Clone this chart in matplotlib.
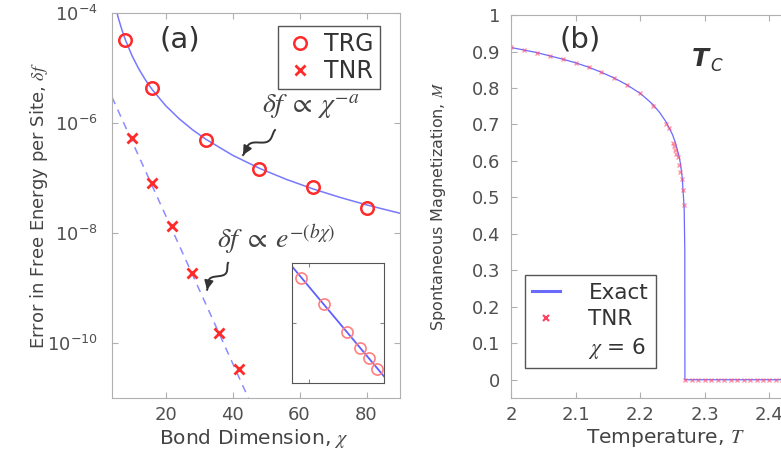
import numpy as np
import matplotlib
matplotlib.use("Agg")
import matplotlib.pyplot as plt
from matplotlib.lines import Line2D

# ---- datos del panel (a) ----
chi_trg = [8, 16, 32, 48, 64, 80]
err_trg = [3.2e-5, 4.4e-6, 4.9e-7, 1.45e-7, 6.8e-8, 2.9e-8]

chi_tnr = [10, 16, 22, 28, 36, 42]
err_tnr = [5.3e-7, 8.0e-8, 1.35e-8, 1.9e-9, 1.5e-10, 3.4e-11]

# curva de ajuste (ley de potencias)
chi_ajuste_trg = [5.5, 6, 7, 8, 10, 12, 14, 16, 20, 24, 28, 32, 40, 48, 56, 64, 72, 80, 90, 100]
err_ajuste_trg = [1.0e-4, 7.68e-5, 4.84e-5, 3.24e-5, 1.66e-5, 9.6e-6, 6.05e-6, 4.05e-6,
                  2.07e-6, 1.2e-6, 7.56e-7, 5.07e-7, 2.59e-7, 1.5e-7, 9.45e-8, 6.33e-8,
                  4.45e-8, 3.24e-8, 2.28e-8, 1.66e-8]

# recta exponencial (extremos)
chi_ajuste_tnr = [4, 50]
err_ajuste_tnr = [2.95e-6, 1.95e-12]

# ---- datos del panel (b) ----
T_exacta = [2.0, 2.02, 2.04, 2.06, 2.08, 2.1, 2.12, 2.14, 2.16, 2.18, 2.2, 2.21, 2.22,
            2.23, 2.24, 2.25, 2.255, 2.26, 2.262, 2.265, 2.268, 2.269, 2.2692, 2.5]
M_exacta = [0.911, 0.904, 0.897, 0.888, 0.879, 0.869, 0.857, 0.843, 0.827, 0.808, 0.785,
            0.770, 0.754, 0.733, 0.707, 0.672, 0.647, 0.613, 0.595, 0.555, 0.472, 0.356,
            0.0, 0.0]

T_tnr = [2.0, 2.02, 2.04, 2.06, 2.08, 2.1, 2.12, 2.14, 2.16, 2.18, 2.2, 2.22, 2.24,
         2.245, 2.25, 2.252, 2.254, 2.256, 2.258, 2.26, 2.262, 2.264, 2.266, 2.267,
         2.27, 2.28, 2.29, 2.3, 2.31, 2.32, 2.33, 2.34, 2.35, 2.36, 2.37, 2.38, 2.39,
         2.4, 2.41, 2.42, 2.43, 2.44, 2.45, 2.46, 2.47, 2.48, 2.49, 2.5]
M_tnr = [0.911, 0.904, 0.897, 0.888, 0.879, 0.869, 0.857, 0.843, 0.827, 0.808, 0.785,
         0.750, 0.700, 0.690, 0.650, 0.640, 0.630, 0.620, 0.610, 0.590, 0.570, 0.550,
         0.520, 0.480,
         0.0, 0.0, 0.0, 0.0, 0.0, 0.0, 0.0, 0.0, 0.0, 0.0, 0.0, 0.0, 0.0,
         0.0, 0.0, 0.0, 0.0, 0.0, 0.0, 0.0, 0.0, 0.0, 0.0, 0.0]

# ---- estilo ----
plt.rcParams['font.family'] = ['DejaVu Sans']
plt.rcParams['mathtext.fontset'] = 'stix'
gris_texto = '#444444'
gris_marco = '#b0b0b0'
azul = '#7878ff'
rojo = '#ff2a2a'


def estilo_ejes(ax, pad_y=4):
    for s in ax.spines.values():
        s.set_color(gris_marco)
    ax.tick_params(direction='in', top=True, right=True, length=4,
                   color=gris_marco, labelcolor='#505050', labelsize=13)
    ax.tick_params(axis='x', pad=6)
    ax.tick_params(axis='y', pad=pad_y)


def flecha_ondulada(ax, inicio, fin, ancho_px, alto_px):
    # linea ondulada en pixeles del eje, con punta de flecha al final
    x0, y0 = inicio[0] * ancho_px, inicio[1] * alto_px
    x1, y1 = fin[0] * ancho_px, fin[1] * alto_px
    t = np.linspace(0, 1, 80)
    dx, dy = x1 - x0, y1 - y0
    largo = np.hypot(dx, dy)
    nx, ny = -dy / largo, dx / largo
    onda = 5.5 * np.sin(2 * np.pi * 1.0 * t) * np.sin(np.pi * t) ** 0.5
    xs = x0 + dx * t + nx * onda
    ys = y0 + dy * t + ny * onda
    ax.plot(xs / ancho_px, ys / alto_px, color='#333333', lw=1.4,
            transform=ax.transAxes, clip_on=False)
    ax.annotate('', xy=fin, xytext=(xs[-8] / ancho_px, ys[-8] / alto_px),
                xycoords='axes fraction', textcoords='axes fraction',
                arrowprops=dict(arrowstyle='-|>', color='#333333', lw=1.4,
                                mutation_scale=13, shrinkA=0, shrinkB=0))


fig = plt.figure(figsize=(7.81, 4.5), dpi=100)

# ================= panel (a) =================
ax1 = fig.add_axes([0.1434, 0.1156, 0.3688, 0.8556])
ax1.plot(chi_ajuste_trg, err_ajuste_trg, color=azul, lw=1.1)
ax1.plot(chi_ajuste_tnr, err_ajuste_tnr, color='#8c8cff', lw=1.1, ls=(0, (5, 4)))
ax1.plot(chi_trg, err_trg, 'o', mfc='none', mec=rojo, ms=9, mew=1.8, label='TRG')
ax1.plot(chi_tnr, err_tnr, 'x', color=rojo, ms=7, mew=2, label='TNR')
ax1.set_yscale('log')
ax1.set_xlim(4, 90)
ax1.set_ylim(1e-11, 1e-4)
ax1.set_xticks([20, 40, 60, 80])
ax1.set_yticks([1e-10, 1e-8, 1e-6, 1e-4])
ax1.minorticks_off()
estilo_ejes(ax1, pad_y=10)
ax1.set_xlabel(r'Bond Dimension, $\chi$', fontsize=14.5, color=gris_texto)
ax1.set_ylabel(r'Error in Free Energy per Site, $\delta f$', fontsize=13, color=gris_texto)
ax1.yaxis.set_label_coords(-0.215, 0.5)
ax1.xaxis.set_label_coords(0.493, -0.075)
ax1.text(0.236, 0.93, '(a)', transform=ax1.transAxes, fontsize=21,
         color='#333333', ha='center', va='center')
ax1.text(0.52, 0.755, r'$\delta f\;\propto\;\chi^{-a}$', transform=ax1.transAxes,
         fontsize=20, color='#444444', va='center')
ax1.text(0.365, 0.41, r'$\delta f\;\propto\;e^{-(b\chi)}$', transform=ax1.transAxes,
         fontsize=20, color='#444444', va='center')
flecha_ondulada(ax1, (0.566, 0.696), (0.455, 0.631), 288, 385)
flecha_ondulada(ax1, (0.403, 0.351), (0.330, 0.281), 288, 385)
leg1 = ax1.legend(loc='upper right', bbox_to_anchor=(0.93, 0.966), fontsize=17,
                  fancybox=False, edgecolor='#555555', framealpha=1, borderaxespad=0,
                  handletextpad=0.4, handlelength=1.3, borderpad=0.25, labelspacing=0.15)
for t in leg1.get_texts():
    t.set_color('#333333')

# recuadro (log-log del TRG)
ax_in = fig.add_axes([0.3739, 0.1489, 0.1178, 0.2667])
ax_in.plot([6, 100], [7.68e-5, 1.66e-8], color='#6060ff', lw=1.3)
ax_in.plot(chi_trg, err_trg, 'o', mfc='none', mec='#ff8080', ms=8, mew=1.2)
ax_in.set_xscale('log')
ax_in.set_yscale('log')
ax_in.set_xlim(6, 100)
ax_in.set_ylim(1e-8, 1e-4)
ax_in.set_xticks([10])
ax_in.set_yticks([1e-6])
ax_in.minorticks_off()
ax_in.tick_params(direction='in', top=True, right=True, length=3, color='#888888',
                  labelbottom=False, labelleft=False)
for s in ax_in.spines.values():
    s.set_color('#555555')

# ================= panel (b) =================
ax2 = fig.add_axes([0.6543, 0.1156, 0.4136, 0.851])
ax2.plot(T_exacta, M_exacta, color='#6a6aff', lw=0.9, label='Exact')
ax2.plot(T_tnr, M_tnr, 'x', color='#ff5070', alpha=0.6, ms=3.5, mew=1, label='TNR')
ax2.set_xlim(2, 2.5)
ax2.set_ylim(-0.05, 1)
# el eje continua fuera de la figura, como en el original recortado
ax2.set_xticks([2, 2.1, 2.2, 2.3, 2.4])
ax2.set_yticks([0, 0.1, 0.2, 0.3, 0.4, 0.5, 0.6, 0.7, 0.8, 0.9, 1])
ax2.set_xticklabels(['2', '2.1', '2.2', '2.3', '2.4'])
ax2.set_yticklabels(['0', '0.1', '0.2', '0.3', '0.4', '0.5', '0.6', '0.7', '0.8', '0.9', '1'])
estilo_ejes(ax2, pad_y=8)
ax2.set_xlabel(r'Temperature, $T$', fontsize=14.5, color=gris_texto)
ax2.set_ylabel(r'Spontaneous Magnetization, $M$', fontsize=11.5, color=gris_texto)
ax2.yaxis.set_label_coords(-0.195, 0.5)
ax2.xaxis.set_label_coords(0.477, -0.075)
ax2.text(0.213, 0.935, '(b)', transform=ax2.transAxes, fontsize=21,
         color='#333333', ha='center', va='center')
# T_C en negrita cursiva
ax2.text(0.56, 0.885, 'T', transform=ax2.transAxes, fontsize=18, fontweight='bold',
         style='italic', color='#333333', va='center')
ax2.text(0.618, 0.868, 'C', transform=ax2.transAxes, fontsize=12,
         style='italic', color='#333333', va='center')

extra = Line2D([], [], linestyle='none', marker=None)
h, l = ax2.get_legend_handles_labels()
h[0] = Line2D([], [], color='#6a6aff', lw=2.2)
h[1] = Line2D([], [], linestyle='none', marker='x', color='#ff4060', ms=5, mew=1.5)
leg2 = ax2.legend(h + [extra], l + [r'$\chi$ = 6'], loc='lower left',
                  bbox_to_anchor=(0.043, 0.078), fontsize=15.5, fancybox=False,
                  edgecolor='#555555', framealpha=1, handlelength=1.3, borderaxespad=0,
                  handletextpad=1.3, borderpad=0.35, labelspacing=0.3)
for t in leg2.get_texts():
    t.set_color('#333333')

fig.savefig('out.png', dpi=100)
